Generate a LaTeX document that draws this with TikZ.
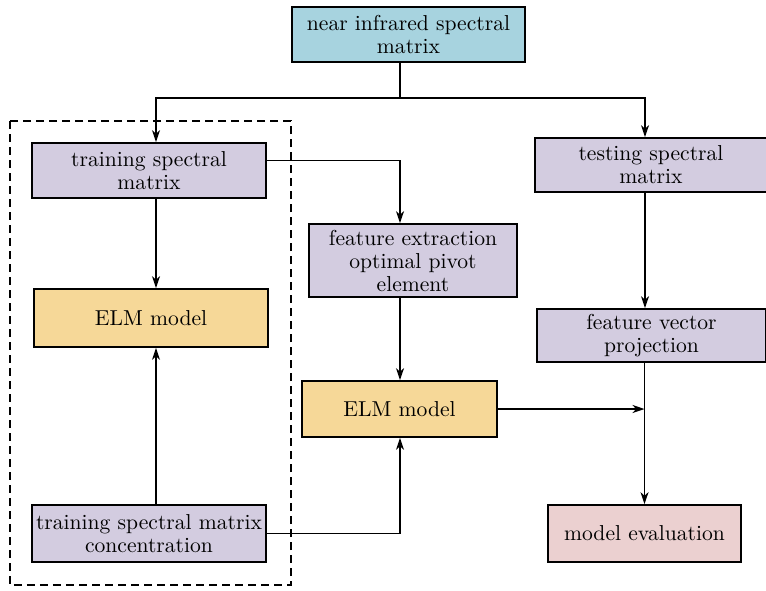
\documentclass[tikz,border=0pt]{standalone}
\usepackage{amsmath}
\usepackage{tikz}
\usetikzlibrary{positioning,arrows.meta}

\definecolor{nirblue}{RGB}{167,211,223}
\definecolor{lavend}{RGB}{211,204,224}
\definecolor{elmyel}{RGB}{246,216,152}
\definecolor{evalpink}{RGB}{235,208,208}

\begin{document}
\begin{tikzpicture}[->,x=0.5pt,y=-0.5pt,line width=0.75pt,>={Stealth[length=6pt,width=4pt,inset=1.8pt]},
      box/.style={draw,line width=0.85pt,align=center,inner sep=2pt,font=\fontsize{10.8}{11.5}\selectfont},
      frame/.style={-,draw,line width=0.8pt,dash pattern=on 4pt off 2.5pt}]
			\useasboundingbox (0,0) rectangle (766,590);
			\node[box,fill=nirblue,minimum width=116.5pt,minimum height=27.5pt] (nir) at (408.5,34.5) {near infrared spectral\\matrix};
			\node[box,fill=lavend,minimum width=117pt,minimum height=27.5pt] (train) at (149,170.5) {training spectral\\matrix};
			\node[box,fill=elmyel,minimum width=117pt,minimum height=29pt] (elmL) at (151,318) {ELM model};
			\node[box,fill=lavend,minimum width=117pt,minimum height=28.5pt] (conc) at (149,533.5) {training spectral matrix\\concentration};
			\node[box,fill=lavend,minimum width=104pt,minimum height=36.5pt] (feat) at (413,260.5) {feature extraction\\optimal pivot\\element};
			\node[box,fill=elmyel,minimum width=97.5pt,minimum height=28pt] (elmM) at (399.5,409) {ELM model};
			\node[box,fill=lavend,minimum width=116pt,minimum height=27pt] (test) at (651,165) {testing spectral\\matrix};
			\node[box,fill=lavend,minimum width=114.5pt,minimum height=26.5pt] (fvp) at (651.5,335.5) {feature vector\\projection};
			\node[box,fill=evalpink,minimum width=96.5pt,minimum height=28.5pt] (evl) at (644.5,533.5) {model evaluation};
			\draw[frame] (10,121) rectangle (291,585);
			% split below the spectral matrix
			\coordinate (split) at (400,98);
			\draw[-] (nir.south -| split) -- (split);
			\draw (split) -| ([xshift=3.5pt]train.north);
			\draw (split) -| ([xshift=-3pt]test.north);
			% training side
			\draw ([xshift=3.5pt]train.south) -- ([xshift=3.5pt]train.south |- elmL.north);
			\draw ([xshift=3.5pt]conc.north) -- ([xshift=3.5pt]conc.north |- elmL.south);
			\draw ([yshift=5pt]train.east) -| ([xshift=-6.5pt]feat.north);
			\draw ([xshift=-6.5pt]feat.south) -- ([xshift=-6.5pt]feat.south |- elmM.north);
			\draw (conc.east) -| ([xshift=0.25pt]elmM.south);
			% testing side
			\draw ([xshift=-3pt]test.south) -- ([xshift=-3pt]test.south |- fvp.north);
			\draw (fvp.south -| evl.north) -- (evl.north);
			\draw (elmM.east) -- (elmM.east -| evl.north);
		\end{tikzpicture}
\end{document}
